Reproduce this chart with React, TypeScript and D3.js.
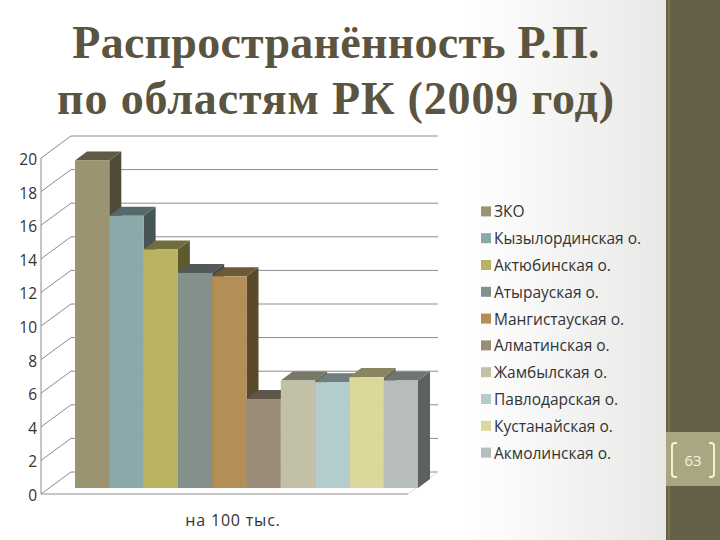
import * as d3 from "d3";

const regions = [
  "ЗКО",
  "Кызылординская о.",
  "Актюбинская о.",
  "Атырауская о.",
  "Мангистауская о.",
  "Алматинская о.",
  "Жамбылская о.",
  "Павлодарская о.",
  "Кустанайская о.",
  "Акмолинская о.",
];
const values = [19.5, 16.2, 14.2, 12.8, 12.6, 5.3, 6.4, 6.3, 6.6, 6.4];
const colors = [
  "#9b9470",
  "#8ba8aa",
  "#b9b25f",
  "#84908c",
  "#b38f55",
  "#9a8c78",
  "#c3c0a8",
  "#b3cdcf",
  "#dcd89c",
  "#b6bdba",
];
const yTicks = [0, 2, 4, 6, 8, 10, 12, 14, 16, 18, 20];
const titleLines = ["Распространённость Р.П.", "по областям РК (2009 год)"];
const categoryLabel = "на 100 тыс.";
const pageNumber = "63";

const sans = "'Open Sans', 'DejaVu Sans', sans-serif";
const serif = "'Liberation Serif', serif";

export default function App() {
  const y = d3.scaleLinear().domain([0, 20]).range([494, 158]);
  const barBase = 488;
  const barY = (v: number) => barBase - (y(0) - y(v));
  const x = d3.scaleBand<number>().domain(d3.range(values.length)).range([75, 418]).padding(0);
  const bw = x.bandwidth();
  const legendY = d3.scaleBand<number>().domain(d3.range(regions.length)).range([198, 466]);

  const wall = { dx: 30, dy: -22 }; // back wall offset of the 3d box
  const depth = { dx: 12, dy: -9 }; // bar depth

  return (
    <svg
      width={720}
      height={540}
      style={{ position: "fixed", left: 0, top: 0 }}
    >
      <defs>
        <linearGradient id="bg" x1="0" x2="1" y1="0" y2="0">
          <stop offset="0" stopColor="#ffffff" />
          <stop offset="0.7" stopColor="#ffffff" />
          <stop offset="1" stopColor="#e8e8e7" />
        </linearGradient>
      </defs>
      <rect width={666} height={540} fill="url(#bg)" />
      <rect x={666} width={54} height={540} fill="#665f4a" />
      <rect x={668} width={2} height={540} fill="#7a7350" />
      <rect x={666} y={432} width={54} height={54} fill="#aaa682" />

      {titleLines.map((t, i) => (
        <text
          key={t}
          x={336}
          y={58 + i * 56}
          textAnchor="middle"
          fontFamily={serif}
          fontWeight={700}
          fontSize={46}
          letterSpacing={i === 0 ? 0.25 : 0.85}
          fill="#5a5440"
        >
          {t}
        </text>
      ))}

      {/* gridlines on side wall and back wall */}
      <g fill="none" stroke="#8c8c8c" strokeWidth={1}>
        {yTicks.map((t) => (
          <path
            key={t}
            d={`M${41},${y(t)}L${41 + wall.dx},${y(t) + wall.dy}L${438},${y(t) + wall.dy}`}
          />
        ))}
        <path d={`M41,${y(0)}L41,${y(20)}`} />
        <path d={`M41,${y(0)}L408,${y(0)}`} />
        <path d={`M408,${y(0)}L438,${y(0) + wall.dy}`} stroke="#dddddd" />
      </g>

      {yTicks.map((t) => (
        <text
          key={t}
          x={37}
          y={y(t) + 7}
          textAnchor="end"
          fontFamily={sans}
          fontSize={15.5}
          fill="#333"
        >
          {t}
        </text>
      ))}

      {/* bars, drawn left to right so each one covers the side of the next */}
      {values.map((v, i) => {
        const x0 = x(i) as number;
        const top = barY(v);
        const c = d3.color(colors[i])!;
        return (
          <g key={regions[i]}>
            <path
              d={`M${x0 + bw},${top}l${depth.dx},${depth.dy}V${barBase + depth.dy}l${-depth.dx},${-depth.dy}Z`}
              fill={c.darker(1.9).toString()}
            />
            <path
              d={`M${x0},${top}l${depth.dx},${depth.dy}h${bw}l${-depth.dx},${-depth.dy}Z`}
              fill={c.darker(1.35).toString()}
            />
            <rect x={x0} y={top} width={bw} height={barBase - top} fill={colors[i]} />
          </g>
        );
      })}

      <text
        x={233}
        y={526}
        textAnchor="middle"
        fontFamily={sans}
        fontSize={16}
        letterSpacing={0.8}
        fill="#333"
      >
        {categoryLabel}
      </text>

      {regions.map((r, i) => {
        const cy = (legendY(i) as number) + legendY.bandwidth() / 2;
        return (
          <g key={r}>
            <rect x={481} y={cy - 5} width={10} height={10} fill={colors[i]} />
            <text x={494} y={cy + 6} fontFamily={sans} fontSize={15.5} fill="#333">
              {r}
            </text>
          </g>
        );
      })}

      <g fill="none" stroke="#f3f0cf" strokeWidth={2}>
        <path d="M677,443h-2a3,3 0 0 0 -3,3v28a3,3 0 0 0 3,3h2" />
        <path d="M709,443h2a3,3 0 0 1 3,3v28a3,3 0 0 1 -3,3h-2" />
      </g>
      <text x={693} y={466} textAnchor="middle" fontFamily={sans} fontSize={15} fill="#f4f2e0">
        {pageNumber}
      </text>
    </svg>
  );
}
